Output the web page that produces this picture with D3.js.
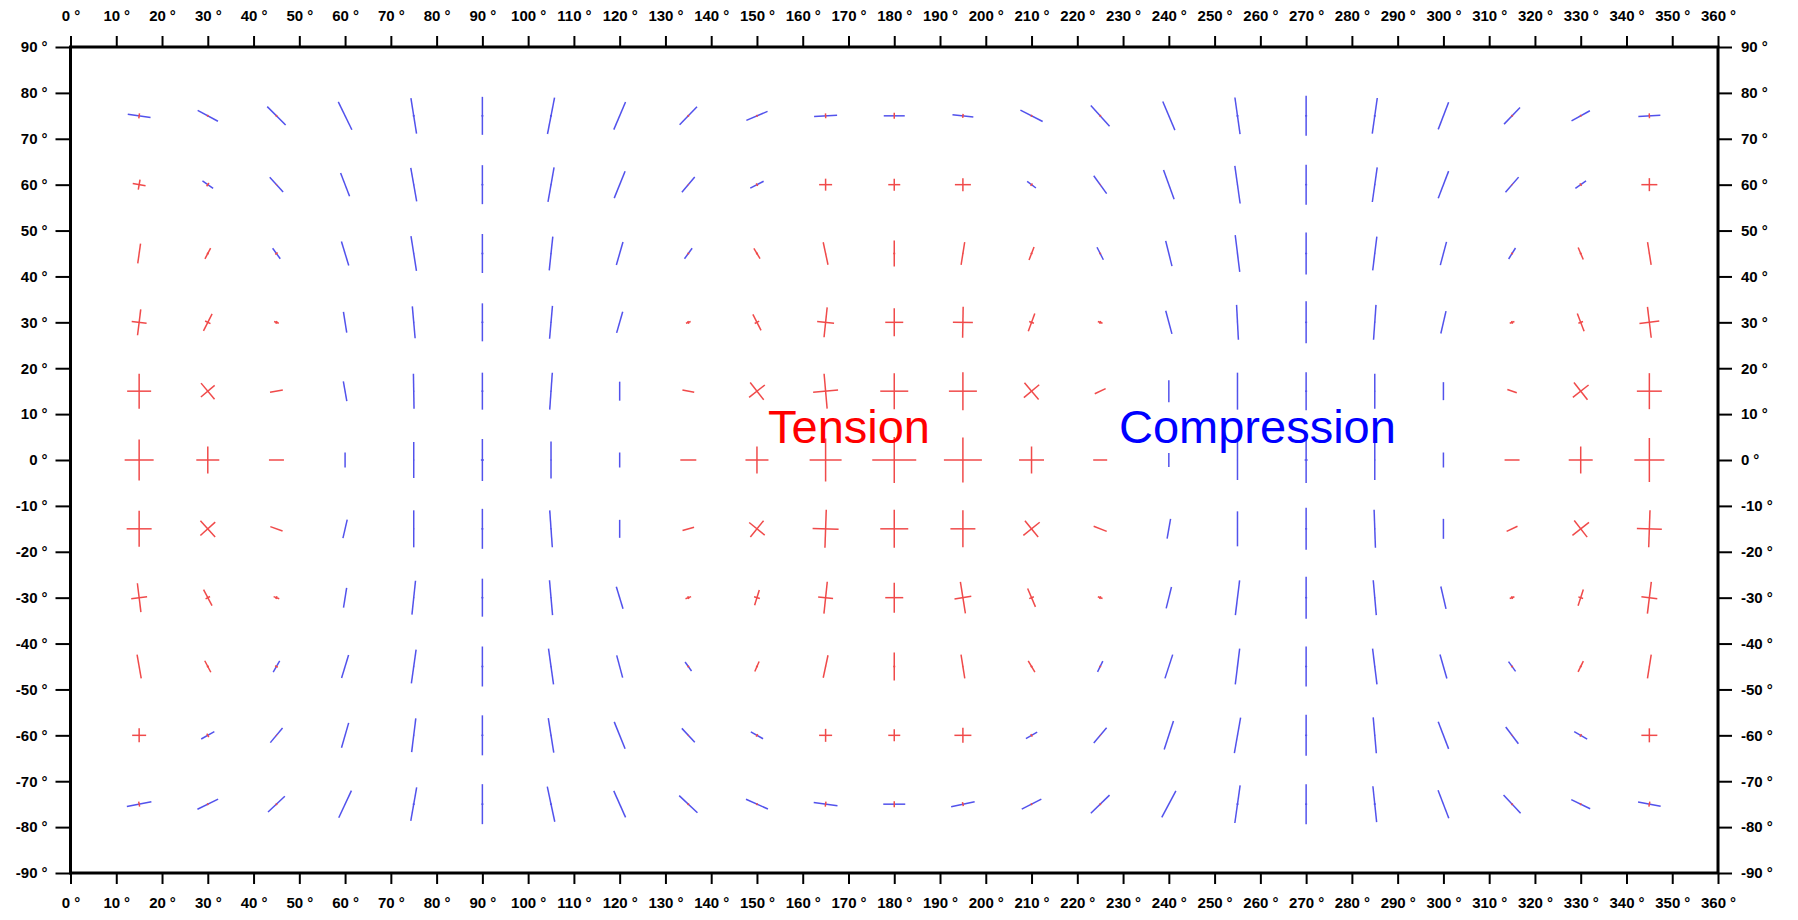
<!DOCTYPE html>
<html>
<head>
<meta charset="utf-8">
<script src="https://cdn.jsdelivr.net/npm/d3@7"></script>
<style>
  body { margin: 0; background: #fff; }
  .axis text { font-family: "Liberation Sans", Arial, sans-serif; font-size: 15px; font-weight: bold; fill: #000; }
  .axis line { stroke: #000; stroke-width: 2; }
  .axis path { display: none; }
</style>
</head>
<body>
<div id="chart"></div>
<script>
// grid of stress crosses: longitude columns, latitude rows
var lons = [15, 30, 45, 60, 75, 90, 105, 120, 135, 150, 165, 180, 195, 210, 225, 240, 255, 270, 285, 300, 315, 330, 345];
var lats = [75, 60, 45, 30, 15, 0, -15, -30, -45, -60, -75];

var lonTicks = d3.range(0, 361, 10);
var latTicks = d3.range(90, -91, -10);

// principal stress 1 (kPa, + tension / - compression), one row per latitude
var sigma1 = [
  [-23,-23,-26,-31,-36,-38,-37,-30,-25,-23,-23,-21,-21,-25,-28,-31,-37,-40,-36,-29,-23,-21,-22],
  [13,-13,-20,-25,-34,-39,-35,-29,-20,-15,13,12,16,-11,-22,-31,-38,-40,-35,-29,-20,-13,16],
  [20,12,-13,-25,-35,-39,-34,-24,-13,12,23,26,23,14,-14,-26,-37,-42,-34,-24,-13,13,23],
  [26,19,5,-21,-32,-38,-33,-22,5,18,30,28,31,19,5,-24,-35,-42,-35,-23,5,19,31],
  [35,21,13,-20,-35,-37,-37,-19,12,22,35,36,38,22,12,-22,-37,-38,-35,-18,10,22,36],
  [41,27,15,-15,-36,-42,-37,-15,16,27,43,46,45,27,14,-14,-40,-46,-40,-15,15,27,44],
  [36,22,13,-19,-37,-40,-37,-18,12,21,38,38,37,21,14,-20,-35,-42,-38,-20,12,21,37],
  [29,18,6,-20,-34,-38,-35,-23,6,16,32,30,32,20,5,-22,-35,-42,-35,-23,5,17,32],
  [24,13,-13,-24,-34,-40,-36,-23,-11,11,23,28,24,13,-12,-25,-36,-40,-36,-25,-12,12,24],
  [14,-15,-19,-26,-34,-40,-35,-29,-19,-14,13,12,17,-13,-20,-30,-36,-41,-36,-29,-21,-15,16],
  [-25,-23,-23,-30,-34,-40,-36,-29,-25,-24,-24,-22,-24,-22,-26,-30,-38,-40,-36,-30,-25,-21,-23]
];

// principal stress 2 (kPa), perpendicular to sigma1
var sigma2 = [
  [5,2,2,0,-2,-2,-2,0,2,2,5,6,4,2,2,0,-2,-2,-2,0,2,2,5],
  [10,4,1,0,-1,-2,-1,0,1,3,12,12,13,3,1,0,-1,-2,-1,0,1,3,13],
  [0,2,3,0,-1,-2,-1,0,2,2,1,2,1,2,2,0,-1,-2,-1,0,2,2,1],
  [15,6,3,0,-1,-2,-1,0,3,5,17,18,20,5,3,0,-1,-2,-1,0,3,5,20],
  [24,18,0,0,-1,-2,-1,0,0,20,25,28,28,20,0,0,-1,-2,-1,0,0,20,25],
  [29,23,0,0,-1,-3,-1,0,0,23,32,44,38,25,0,0,-1,-3,-1,0,0,24,30],
  [25,20,0,0,-1,-2,-1,0,0,20,26,28,25,21,0,0,-1,-2,-1,0,0,21,25],
  [16,5,3,0,-1,-2,-1,0,3,6,15,18,17,5,3,0,-1,-2,-1,0,3,5,16],
  [0,2,3,0,-1,-2,-1,0,2,2,1,2,1,2,2,0,-1,-2,-1,0,2,2,1],
  [14,4,1,0,-1,-2,-1,0,1,3,13,12,15,3,1,0,-1,-2,-1,0,1,3,14],
  [5,2,2,0,-2,-2,-2,0,2,2,5,6,4,2,2,0,-2,-2,-2,0,2,2,5]
];

// azimuth of sigma1 axis, degrees clockwise from north
var azimuth = [
  [98,118,135,154,171,0,11,23,44,67,87,90,96,117,138,157,172,0,8,21,44,61,87],
  [100,125,138,159,170,0,10,22,40,63,90,90,90,127,144,160,172,0,8,21,41,55,90],
  [8,28,144,163,171,0,6,16,36,149,168,0,9,21,153,166,173,0,7,15,32,157,171],
  [7,27,110,171,175,0,5,16,70,153,6,0,1,20,110,165,177,0,4,13,70,159,173],
  [0,140,80,170,179,0,4,0,101,142,175,0,0,140,65,0,0,0,0,0,109,142,0],
  [0,0,90,0,0,0,0,0,90,0,0,0,0,0,90,0,0,0,0,0,90,0,0],
  [0,138,110,13,0,0,176,0,74,39,2,0,0,141,111,10,0,0,178,0,65,142,2],
  [173,152,110,9,6,0,175,163,70,17,6,0,171,157,110,14,7,0,175,167,70,18,7],
  [170,152,30,17,8,0,172,165,144,23,12,0,171,149,26,18,7,0,173,164,144,26,9],
  [90,61,40,16,7,0,171,158,137,119,90,90,90,60,40,18,10,0,175,159,143,120,90],
  [79,64,47,25,10,0,168,156,133,114,98,90,78,63,46,28,8,0,174,159,137,116,101]
];

var tensionColor = "#f04a4a",
    compressionColor = "#5252ec";

var width = 1798, height = 920;
var margin = { top: 47, right: 80, bottom: 47, left: 70.5 };

var svg = d3.select("#chart").append("svg")
    .attr("width", width)
    .attr("height", height)
    .style("background", "#fff");

var x = d3.scaleLinear().domain([0, 360]).range([margin.left, width - margin.right]);
var y = d3.scaleLinear().domain([90, -90]).range([margin.top, height - margin.bottom]);
// bar length for a stress magnitude
var len = d3.scaleLinear().domain([0, 50]).range([0, 50]);

// flatten the grid into one list of bars
var bars = [];
lats.forEach(function(lat, i) {
    lons.forEach(function(lon, j) {
        var az = azimuth[i][j];
        [[sigma1[i][j], az], [sigma2[i][j], az + 90]].forEach(function(s) {
            if (s[0] === 0) return;
            bars.push({ lon: lon, lat: lat, s: s[0], az: s[1] });
        });
    });
});

svg.append("g").attr("class", "bars")
  .selectAll("line")
  .data(bars)
  .join("line")
    .attr("x1", function(d) { var r = d.az * Math.PI / 180; return x(d.lon) - Math.sin(r) * len(Math.abs(d.s)) / 2; })
    .attr("y1", function(d) { var r = d.az * Math.PI / 180; return y(d.lat) + Math.cos(r) * len(Math.abs(d.s)) / 2; })
    .attr("x2", function(d) { var r = d.az * Math.PI / 180; return x(d.lon) + Math.sin(r) * len(Math.abs(d.s)) / 2; })
    .attr("y2", function(d) { var r = d.az * Math.PI / 180; return y(d.lat) - Math.cos(r) * len(Math.abs(d.s)) / 2; })
    .style("stroke", function(d) { return d.s > 0 ? tensionColor : compressionColor; })
    .style("stroke-width", 1.5);

// degree labels: number, small gap, degree sign
function degLabels(sel) {
    sel.selectAll(".tick text").each(function(d) {
        var t = d3.select(this).text(null);
        t.append("tspan").text(d);
        t.append("tspan").attr("dx", 4).text("°");
    });
}

svg.append("g").attr("class", "axis")
    .attr("transform", "translate(0," + y(90) + ")")
    .call(d3.axisTop(x).tickValues(lonTicks).tickSize(11).tickSizeOuter(0).tickPadding(15))
    .call(degLabels);

svg.append("g").attr("class", "axis")
    .attr("transform", "translate(0," + y(-90) + ")")
    .call(d3.axisBottom(x).tickValues(lonTicks).tickSize(11).tickSizeOuter(0).tickPadding(13))
    .call(degLabels);

svg.append("g").attr("class", "axis")
    .attr("transform", "translate(" + x(0) + ",0)")
    .call(d3.axisLeft(y).tickValues(latTicks).tickSize(15).tickSizeOuter(0).tickPadding(8))
    .call(degLabels);

svg.append("g").attr("class", "axis")
    .attr("transform", "translate(" + x(360) + ",0)")
    .call(d3.axisRight(y).tickValues(latTicks).tickSize(14).tickSizeOuter(0).tickPadding(9))
    .call(degLabels);

// map frame
svg.append("rect")
    .attr("x", x(0))
    .attr("y", y(90))
    .attr("width", x(360) - x(0))
    .attr("height", y(-90) - y(90))
    .style("fill", "none")
    .style("stroke", "#000")
    .style("stroke-width", 3);

svg.append("text")
    .attr("x", 768)
    .attr("y", 443)
    .style("font-family", "'Liberation Sans', Arial, sans-serif")
    .style("font-size", "47px")
    .style("fill", "#ff0000")
    .text("Tension");

svg.append("text")
    .attr("x", 1119)
    .attr("y", 443)
    .style("font-family", "'Liberation Sans', Arial, sans-serif")
    .style("font-size", "47px")
    .style("fill", "#0000ff")
    .text("Compression");
</script>
</body>
</html>
